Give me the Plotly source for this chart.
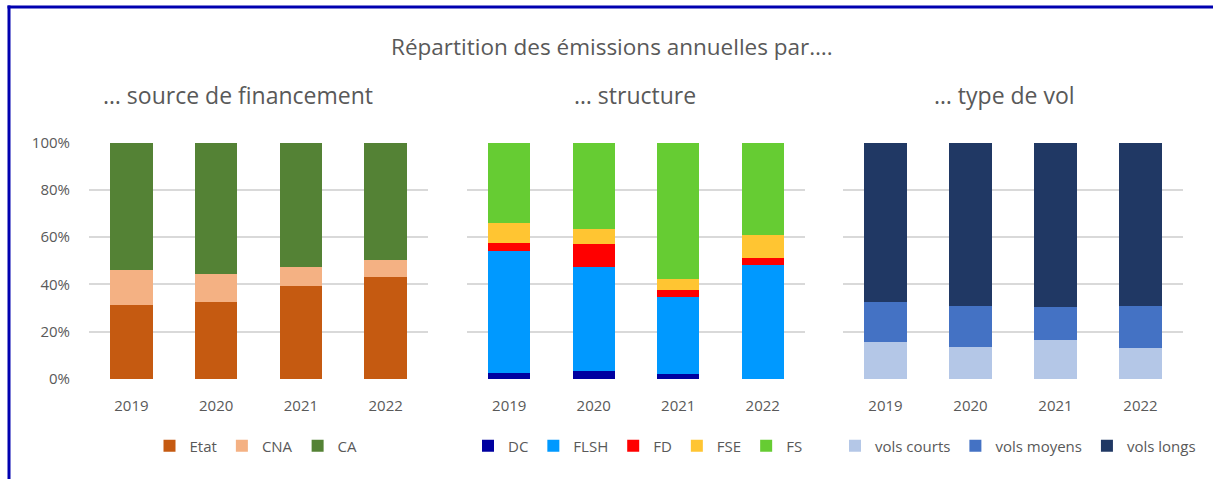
import plotly.graph_objects as go

years = ["2019", "2020", "2021", "2022"]

# Panel 1: source de financement (%)
etat = [31.2, 32.4, 39.3, 43.1]
cna = [14.8, 12.1, 8.1, 7.1]
ca = [54.0, 55.5, 52.6, 49.8]

# Panel 2: structure (%)
dc = [2.4, 3.4, 2.1, 0.0]
flsh = [51.7, 44.0, 32.6, 48.3]
fd = [3.5, 9.8, 3.1, 2.9]
fse = [8.5, 6.1, 4.6, 9.7]
fs = [33.9, 36.7, 57.6, 39.1]

# Panel 3: type de vol (%)
courts = [15.5, 13.4, 16.5, 13.0]
moyens = [16.9, 17.6, 13.9, 18.0]
longs = [67.6, 69.0, 69.6, 69.0]

main_title = "Répartition des émissions annuelles par…."
sub_titles = ["… source de financement", "… structure", "… type de vol"]

FONT = "Open Sans"
GREY = "#595959"

fig = go.Figure()

def add(series, name, color, ax, leg):
    fig.add_trace(go.Bar(
        x=years, y=[v / 100 for v in series], name=name,
        marker=dict(color=color, line=dict(width=0)),
        xaxis="x" + ("" if ax == 1 else str(ax)),
        yaxis="y" + ("" if ax == 1 else str(ax)),
        legend="legend" + ("" if leg == 1 else str(leg)),
        hoverinfo="skip",
    ))

add(etat, "Etat", "#C55A11", 1, 1)
add(cna, "CNA", "#F4B183", 1, 1)
add(ca, "CA", "#548235", 1, 1)

add(dc, "DC", "#0000A0", 2, 2)
add(flsh, "FLSH", "#0099FF", 2, 2)
add(fd, "FD", "#FF0000", 2, 2)
add(fse, "FSE", "#FFC532", 2, 2)
add(fs, "FS", "#66CC33", 2, 2)

add(courts, "vols courts", "#B4C7E7", 3, 3)
add(moyens, "vols moyens", "#4472C4", 3, 3)
add(longs, "vols longs", "#203864", 3, 3)

W, H = 1214, 479
def px(x):
    return x / W
def py(y):
    return 1 - y / H

domains = [(89, 428), (467, 805), (843, 1183)]
ydom = [py(379), py(142.5)]

layout = dict(
    width=W, height=H, autosize=False,
    margin=dict(l=0, r=0, t=0, b=0, pad=0),
    paper_bgcolor="white", plot_bgcolor="white",
    barmode="stack", bargap=0.5,
    font=dict(family=FONT, color=GREY, size=15),
)

for i, (a, b) in enumerate(domains, start=1):
    sfx = "" if i == 1 else str(i)
    layout["xaxis" + sfx] = dict(
        domain=[px(a), px(b)], anchor="y" + sfx, type="category",
        showgrid=False, showline=False, ticks="", zeroline=False,
        automargin=False,
        tickfont=dict(size=15, color=GREY, family=FONT),
        ticklabelstandoff=16, fixedrange=True,
    )
    layout["yaxis" + sfx] = dict(
        domain=ydom, anchor="x" + sfx, range=[0, 1],
        tickvals=[0, 0.2, 0.4, 0.6, 0.8, 1.0],
        tickformat=".0%", showticklabels=(i == 1),
        showgrid=True, gridcolor="#D9D9D9", gridwidth=1.5,
        zeroline=False, showline=False, ticks="", automargin=False,
        tickfont=dict(size=15, color=GREY, family=FONT),
        ticklabelstandoff=18, fixedrange=True,
    )

leg_centers = [256, 638, 1018]
for i, cx in enumerate(leg_centers, start=1):
    sfx = "" if i == 1 else str(i)
    layout["legend" + sfx] = dict(
        orientation="h", x=px(cx), xanchor="center",
        y=py(446), yanchor="middle",
        font=dict(size=15, color=GREY, family=FONT),
        bgcolor="rgba(0,0,0,0)", itemwidth=30, traceorder="normal",
    )

annotations = [dict(
    text=main_title, x=px(612), y=py(46), xref="paper", yref="paper",
    showarrow=False, xanchor="center", yanchor="middle",
    font=dict(size=22.5, color=GREY, family=FONT),
)]
sub_x = [238, 635, 1005]
for t, cx in zip(sub_titles, sub_x):
    annotations.append(dict(
        text=t, x=px(cx), y=py(95), xref="paper", yref="paper",
        showarrow=False, xanchor="center", yanchor="middle",
        font=dict(size=23, color=GREY, family=FONT),
    ))
layout["annotations"] = annotations

layout["shapes"] = [
    dict(type="line", xref="paper", yref="paper",
         x0=px(9), x1=px(9), y0=py(5.5), y1=py(480),
         line=dict(color="#0000B0", width=3)),
    dict(type="line", xref="paper", yref="paper",
         x0=px(7.5), x1=px(1213), y0=py(7), y1=py(7),
         line=dict(color="#0000B0", width=3)),
]

fig.update_layout(**layout)
fig.write_html(
    "out.html",
    config={"displayModeBar": False},
    post_script="document.body.style.margin='0';document.body.style.overflow='hidden';",
)
